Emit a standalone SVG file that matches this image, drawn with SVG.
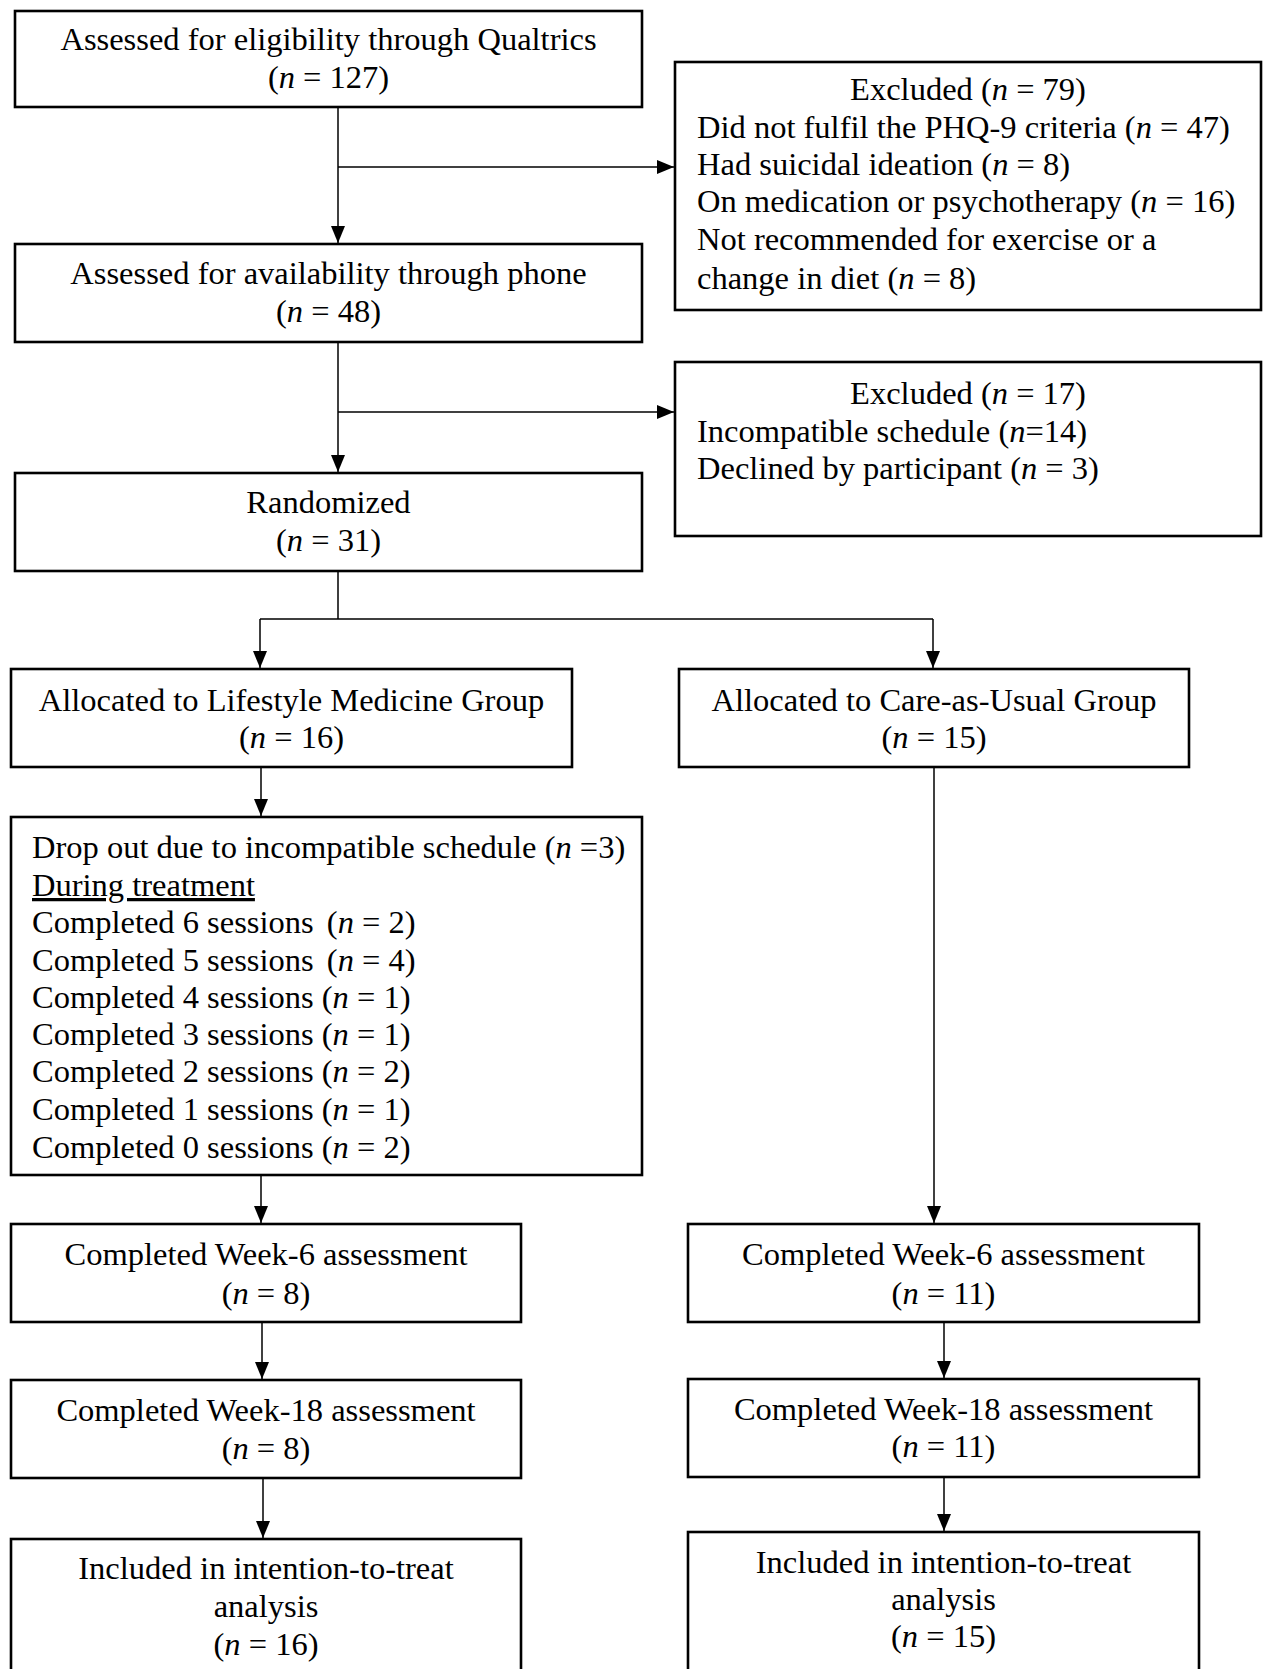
<svg xmlns="http://www.w3.org/2000/svg" width="1264" height="1669" viewBox="0 0 1264 1669">
<style>
.box{fill:#fff;stroke:#000;stroke-width:2.6}
.t{font-family:"Liberation Serif","Times New Roman",serif;font-size:32.5px;fill:#000}
.c{text-anchor:middle}
.n{font-style:italic}
.con{fill:none;stroke:#000;stroke-width:1.5}
</style>
<defs>
<marker id="ah" markerUnits="userSpaceOnUse" markerWidth="17" markerHeight="14" refX="17" refY="7" orient="auto">
<path d="M0,0 L17,7 L0,14 Z" fill="#000"/>
</marker>
</defs>
<rect width="1264" height="1669" fill="#fff"/>
<g id="connectors">
<path class="con" d="M338,107 V243" marker-end="url(#ah)"/>
<path class="con" d="M338,167 H674" marker-end="url(#ah)"/>
<path class="con" d="M338,342 V472" marker-end="url(#ah)"/>
<path class="con" d="M338,412 H674" marker-end="url(#ah)"/>
<path class="con" d="M338,571 V619 M260,619 H933"/>
<path class="con" d="M260,619 V668" marker-end="url(#ah)"/>
<path class="con" d="M933,619 V668" marker-end="url(#ah)"/>
<path class="con" d="M261,767 V816" marker-end="url(#ah)"/>
<path class="con" d="M261,1175 V1223" marker-end="url(#ah)"/>
<path class="con" d="M262,1322 V1379" marker-end="url(#ah)"/>
<path class="con" d="M263,1478 V1538" marker-end="url(#ah)"/>
<path class="con" d="M934,767 V1223" marker-end="url(#ah)"/>
<path class="con" d="M944,1322 V1378" marker-end="url(#ah)"/>
<path class="con" d="M944,1477 V1531" marker-end="url(#ah)"/>
</g>
<g id="n1">
<rect class="box" x="15" y="11" width="627" height="96"/>
<text class="t c" x="328.5" y="50">Assessed for eligibility through Qualtrics</text>
<text class="t c" x="328.5" y="88">(<tspan class="n">n</tspan> = 127)</text>
</g>
<g id="ex1">
<rect class="box" x="675" y="62" width="586" height="248"/>
<text class="t c" x="968" y="100">Excluded (<tspan class="n">n</tspan> = 79)</text>
<text class="t" x="697" y="138">Did not fulfil the PHQ-9 criteria (<tspan class="n">n</tspan> = 47)</text>
<text class="t" x="697" y="175">Had suicidal ideation (<tspan class="n">n</tspan> = 8)</text>
<text class="t" x="697" y="212">On medication or psychotherapy (<tspan class="n">n</tspan> = 16)</text>
<text class="t" x="697" y="250">Not recommended for exercise or a</text>
<text class="t" x="697" y="289">change in diet (<tspan class="n">n</tspan> = 8)</text>
</g>
<g id="n2">
<rect class="box" x="15" y="244" width="627" height="98"/>
<text class="t c" x="328.5" y="284">Assessed for availability through phone</text>
<text class="t c" x="328.5" y="322">(<tspan class="n">n</tspan> = 48)</text>
</g>
<g id="ex2">
<rect class="box" x="675" y="362" width="586" height="174"/>
<text class="t c" x="968" y="404">Excluded (<tspan class="n">n</tspan> = 17)</text>
<text class="t" x="697" y="442">Incompatible schedule (<tspan class="n">n</tspan>=14)</text>
<text class="t" x="697" y="479">Declined by participant (<tspan class="n">n</tspan> = 3)</text>
</g>
<g id="n3">
<rect class="box" x="15" y="473" width="627" height="98"/>
<text class="t c" x="328.5" y="513">Randomized</text>
<text class="t c" x="328.5" y="551">(<tspan class="n">n</tspan> = 31)</text>
</g>
<g id="alloc-lm">
<rect class="box" x="11" y="669" width="561" height="98"/>
<text class="t c" x="291.5" y="711">Allocated to Lifestyle Medicine Group</text>
<text class="t c" x="291.5" y="748">(<tspan class="n">n</tspan> = 16)</text>
</g>
<g id="alloc-cau">
<rect class="box" x="679" y="669" width="510" height="98"/>
<text class="t c" x="934" y="711">Allocated to Care-as-Usual Group</text>
<text class="t c" x="934" y="748">(<tspan class="n">n</tspan> = 15)</text>
</g>
<g id="dropout">
<rect class="box" x="11" y="817" width="631" height="358"/>
<text class="t" x="32" y="858">Drop out due to incompatible schedule (<tspan class="n">n</tspan> =3)</text>
<text class="t" x="32" y="896" text-decoration="underline">During treatment</text>
<text class="t" x="32" y="933">Completed 6 sessions <tspan dx="5">(</tspan><tspan class="n">n</tspan> = 2)</text>
<text class="t" x="32" y="971">Completed 5 sessions <tspan dx="5">(</tspan><tspan class="n">n</tspan> = 4)</text>
<text class="t" x="32" y="1008">Completed 4 sessions (<tspan class="n">n</tspan> = 1)</text>
<text class="t" x="32" y="1045">Completed 3 sessions (<tspan class="n">n</tspan> = 1)</text>
<text class="t" x="32" y="1082">Completed 2 sessions (<tspan class="n">n</tspan> = 2)</text>
<text class="t" x="32" y="1120">Completed 1 sessions (<tspan class="n">n</tspan> = 1)</text>
<text class="t" x="32" y="1158">Completed 0 sessions (<tspan class="n">n</tspan> = 2)</text>
</g>
<g id="lm-w6">
<rect class="box" x="11" y="1224" width="510" height="98"/>
<text class="t c" x="266" y="1265">Completed Week-6 assessment</text>
<text class="t c" x="266" y="1304">(<tspan class="n">n</tspan> = 8)</text>
</g>
<g id="lm-w18">
<rect class="box" x="11" y="1380" width="510" height="98"/>
<text class="t c" x="266" y="1421">Completed Week-18 assessment</text>
<text class="t c" x="266" y="1459">(<tspan class="n">n</tspan> = 8)</text>
</g>
<g id="lm-itt">
<rect class="box" x="11" y="1539" width="510" height="134"/>
<text class="t c" x="266" y="1579">Included in intention-to-treat</text>
<text class="t c" x="266" y="1617">analysis</text>
<text class="t c" x="266" y="1655">(<tspan class="n">n</tspan> = 16)</text>
</g>
<g id="cau-w6">
<rect class="box" x="688" y="1224" width="511" height="98"/>
<text class="t c" x="943.5" y="1265">Completed Week-6 assessment</text>
<text class="t c" x="943.5" y="1304">(<tspan class="n">n</tspan> = 11)</text>
</g>
<g id="cau-w18">
<rect class="box" x="688" y="1379" width="511" height="98"/>
<text class="t c" x="943.5" y="1420">Completed Week-18 assessment</text>
<text class="t c" x="943.5" y="1457">(<tspan class="n">n</tspan> = 11)</text>
</g>
<g id="cau-itt">
<rect class="box" x="688" y="1532" width="511" height="141"/>
<text class="t c" x="943.5" y="1573">Included in intention-to-treat</text>
<text class="t c" x="943.5" y="1610">analysis</text>
<text class="t c" x="943.5" y="1647">(<tspan class="n">n</tspan> = 15)</text>
</g>
</svg>
